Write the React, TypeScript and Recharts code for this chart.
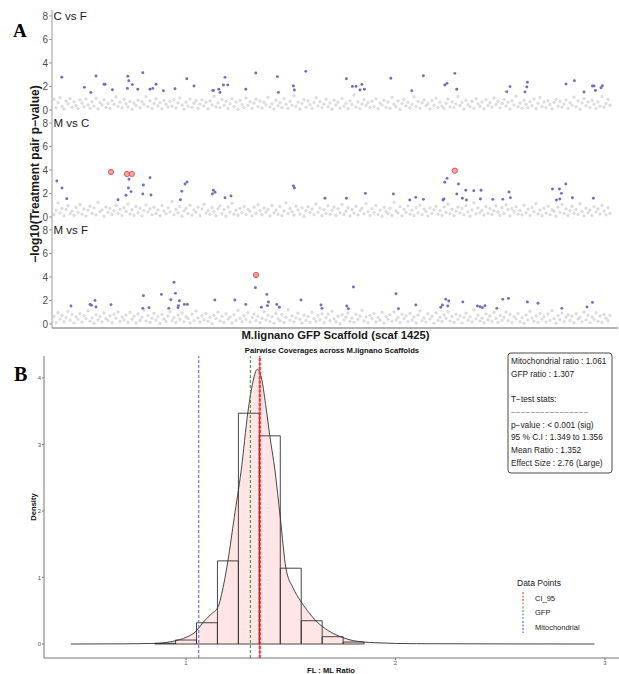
import React from 'react';
import {
  ScatterChart, Scatter, XAxis, YAxis, ComposedChart, Area, ReferenceArea, ReferenceLine,
} from 'recharts';

// ---------- Panel A data (x = position index along scaffold, y = -log10 p) ----------
const greyCF = [
  0.45,0.92,0.18,0.63,1.05,0.31,0.08,0.76,0.52,0.97,0.24,0.69,0.37,0.12,0.85,0.58,0.27,0.93,0.44,0.16,
  0.71,0.33,1.01,0.09,0.64,0.42,0.87,0.22,0.56,0.14,0.79,0.48,1.1,0.3,0.67,0.19,0.9,0.53,0.26,0.73,
  0.06,0.6,0.38,0.83,0.2,0.7,0.46,1.13,0.28,0.78,0.13,0.55,0.95,0.36,0.62,0.1,0.82,0.49,0.25,0.74,
  0.34,0.88,0.17,0.59,1.03,0.41,0.07,0.66,0.32,0.94,0.23,0.57,0.8,0.15,0.5,0.86,0.35,0.65,0.11,0.77,
  0.43,1.16,0.27,0.61,0.21,0.89,0.4,0.72,0.13,0.54,0.96,0.29,0.68,0.05,0.81,0.47,0.22,1.02,0.39,0.7,
  0.12,0.58,0.91,0.3,0.75,0.18,0.64,0.44,1.08,0.26,0.53,0.09,0.84,0.37,0.62,0.2,0.97,0.48,0.15,0.73,
  0.4,1.21,0.31,0.67,0.08,0.55,0.88,0.24,0.79,0.45,0.14,0.63,1.04,0.35,0.71,0.19,0.5,0.92,0.28,0.6,
  0.07,0.83,0.42,0.66,0.17,0.98,0.33,0.57,0.11,0.76,0.46,1.28,0.25,0.69,0.13,0.52,0.87,0.38,0.62,0.21,
  0.74,0.3,0.95,0.1,0.59,0.43,0.81,0.23,0.68,0.16,1.07,0.49,0.27,0.77,0.06,0.56,0.9,0.34,0.65,0.18,
  0.47,1.12,0.29,0.72,0.14,0.6,0.85,0.36,0.54,0.09,0.79,0.41,0.99,0.22,0.67,0.32,0.13,0.58,0.93,0.26,
  0.7,0.19,0.51,1.15,0.37,0.63,0.08,0.82,0.44,0.28,0.75,0.15,0.96,0.53,0.31,0.68,0.11,0.87,0.39,0.61,
  0.24,1.01,0.46,0.73,0.17,0.55,0.89,0.34,0.66,0.07,0.78,0.42,1.18,0.27,0.6,0.14,0.84,0.5,0.21,0.71,
  0.36,0.94,0.12,0.57,1.06,0.3,0.69,0.19,0.8,0.45,0.1,0.64,0.91,0.33,0.74,0.23,0.52,0.86,0.16,0.62,
  0.41,1.09,0.28,0.76,0.05,0.59,0.97,0.37,0.68,0.2,0.83,0.48,0.13,0.7,0.32,1.14,0.25,0.56,0.88,0.4,
];
const greyMC = [
  0.88,0.21,0.56,1.19,0.34,0.72,0.1,0.63,0.95,0.27,0.49,0.14,0.81,0.4,1.05,0.23,0.67,0.08,0.58,0.92,
  0.31,0.76,0.17,1.24,0.45,0.6,0.06,0.85,0.38,0.71,0.2,0.53,0.98,0.29,0.66,0.12,0.79,0.47,1.1,0.25,
  0.62,0.15,0.9,0.36,0.74,0.09,0.55,1.02,0.42,0.69,0.18,0.83,0.3,0.6,0.11,0.96,0.5,0.26,0.77,0.43,
  1.31,0.19,0.64,0.35,0.87,0.07,0.52,0.73,0.28,0.99,0.16,0.58,0.39,0.82,0.13,0.68,1.08,0.33,0.55,0.22,
  0.8,0.46,0.12,0.7,0.94,0.27,0.61,0.05,0.85,0.4,1.17,0.24,0.57,0.15,0.73,0.37,0.9,0.2,0.65,0.48,
  0.1,0.83,0.31,1.03,0.54,0.18,0.76,0.42,0.64,0.08,0.97,0.35,0.59,0.22,0.88,0.13,0.5,1.22,0.29,0.71,
  0.44,0.16,0.92,0.6,0.25,0.78,0.06,0.53,0.86,0.37,0.67,0.19,1.11,0.41,0.74,0.11,0.62,0.3,0.95,0.23,
  0.57,0.84,0.14,0.69,0.36,1.06,0.2,0.48,0.79,0.09,0.63,0.32,0.91,0.17,0.55,0.75,0.27,1.14,0.45,0.12,
  0.7,0.38,0.97,0.21,0.6,0.05,0.82,0.46,0.28,0.73,0.15,1.26,0.51,0.33,0.87,0.1,0.66,0.4,0.93,0.24,
  0.58,0.13,0.8,0.35,1.0,0.19,0.68,0.47,0.08,0.76,0.3,0.61,0.9,0.22,0.54,0.14,0.85,0.39,1.09,0.27,
  0.65,0.11,0.49,0.83,0.34,0.72,0.18,0.96,0.43,0.06,0.6,1.2,0.26,0.77,0.37,0.57,0.16,0.89,0.31,0.7,
  0.2,0.52,0.94,0.4,0.13,0.79,0.29,1.04,0.62,0.08,0.71,0.45,0.86,0.23,0.55,0.17,0.99,0.36,0.67,0.12,
  0.81,0.44,1.15,0.25,0.59,0.1,0.74,0.33,0.92,0.19,0.63,0.48,0.07,0.84,0.38,1.07,0.28,0.69,0.15,0.53,
  0.9,0.32,0.64,0.21,1.12,0.46,0.09,0.75,0.35,0.58,0.14,0.87,0.42,0.68,0.24,0.97,0.5,0.18,0.78,0.3,
];
const greyMF = [
  0.27,0.64,0.12,0.95,0.41,0.73,0.2,0.55,1.07,0.33,0.81,0.09,0.6,0.38,0.88,0.16,0.7,0.46,1.13,0.24,
  0.52,0.07,0.78,0.35,0.62,0.18,0.93,0.44,0.29,0.69,0.11,0.84,0.5,1.02,0.22,0.59,0.36,0.76,0.14,0.97,
  0.4,0.66,0.08,0.86,0.31,0.57,1.18,0.25,0.72,0.15,0.49,0.91,0.34,0.63,0.06,0.8,0.43,0.21,0.68,1.05,
  0.3,0.54,0.13,0.77,0.39,0.94,0.19,0.61,0.47,0.1,0.83,0.28,1.1,0.52,0.17,0.71,0.37,0.89,0.23,0.58,
  0.05,0.75,0.45,1.0,0.26,0.65,0.14,0.87,0.42,0.6,0.09,0.79,0.32,1.15,0.48,0.2,0.7,0.38,0.96,0.16,
  0.56,0.85,0.29,0.67,0.11,0.49,1.04,0.35,0.74,0.21,0.62,0.07,0.9,0.44,0.27,0.8,0.13,0.58,1.21,0.33,
  0.69,0.18,0.51,0.92,0.4,0.08,0.76,0.3,0.63,0.15,0.99,0.46,0.24,0.71,0.37,0.86,0.12,0.55,0.82,0.28,
  1.09,0.43,0.19,0.66,0.05,0.78,0.35,0.59,0.94,0.22,0.5,0.14,0.84,0.39,0.68,1.16,0.26,0.6,0.1,0.73,
  0.47,0.88,0.17,0.53,0.31,0.97,0.08,0.64,0.4,0.79,0.23,1.03,0.36,0.57,0.13,0.82,0.45,0.69,0.2,0.91,
  0.34,0.6,0.11,0.75,1.12,0.28,0.52,0.16,0.87,0.41,0.66,0.07,0.95,0.3,0.58,0.21,0.77,0.48,1.06,0.25,
  0.63,0.14,0.83,0.38,0.7,0.09,0.55,0.92,0.32,0.61,0.18,1.19,0.44,0.74,0.26,0.5,0.1,0.85,0.36,0.67,
  0.22,0.98,0.47,0.15,0.72,0.33,0.58,1.01,0.27,0.8,0.12,0.63,0.42,0.89,0.19,0.54,0.06,0.76,0.35,1.08,
  0.51,0.24,0.69,0.13,0.9,0.4,0.62,0.17,0.84,0.3,1.14,0.45,0.08,0.71,0.37,0.93,0.2,0.57,0.78,0.29,
  0.65,0.11,0.86,0.43,0.56,0.19,1.02,0.34,0.74,0.1,0.6,0.39,0.95,0.23,0.68,0.14,0.81,0.49,0.27,0.72,
];

const blueCF = [
  [4.9,2.79],[16.2,1.93],[19.4,1.5],[22,2.9],[26,2.19],[26.5,2.19],[30.2,1.73],[37.9,2.87],[38.4,2.5],
  [40.2,2.16],[37.7,1.84],[42.9,1.76],[45.4,3.18],[49,1.76],[50.4,1.84],[52,2.19],[55.7,1.64],[61.5,1.81],
  [67.4,2.66],[71,2.04],[80.4,1.67],[80.7,1.67],[83.4,1.76],[84,1.5],[85.7,2.13],[86.5,2.78],[87.9,2.13],
  [96.9,1.76],[101.9,3.15],[112.7,2.84],[113.2,1.5],[120.7,2.04],[121.2,1.7],[126.9,3.29],[147.2,2.66],
  [150.2,2.01],[152,2.01],[154.9,2.18],[154,1.7],[156.2,1.76],[169.4,2.7],[179.9,1.64],[185.7,2.92],
  [196.4,2.13],[197.5,2.27],[201.4,3.12],[202.4,1.76],[227.4,1.56],[229,1.99],[236.5,1.53],[237.4,1.96],
  [237.7,2.36],[257,2.21],[261.2,2.49],[266,1.53],[270.2,2.04],[271,2.04],[271.7,1.67],[274.5,1.9],[275.2,2.07],
];
const blueMC = [
  [2.4,3.06],[5,2.47],[7.4,1.56],[33,1.47],[37,1.85],[38.5,3.21],[38.2,2.47],[39.5,2.16],[45.4,1.96],
  [45.7,2.72],[49,3.35],[49.5,1.87],[64.2,1.47],[64.9,2.18],[66.5,2.81],[67.5,2.98],[80.2,1.96],[80.7,2.27],
  [81.5,2.1],[86.5,1.64],[89.5,1.79],[120.7,2.64],[121.2,2.47],[136.5,1.59],[147.2,1.59],[156.7,2.01],
  [170.7,1.96],[178.9,1.45],[181.9,1.67],[185.7,1.5],[195.5,1.45],[196,1.53],[196.4,2.95],[197.5,3.29],
  [203.2,2.81],[202.4,1.96],[205.2,1.59],[206.9,2.27],[207.2,1.45],[210.9,2.24],[214.5,2.27],[214.2,1.53],
  [220.4,1.5],[225.4,1.5],[228.5,2.13],[229.2,1.64],[250.2,2.38],[253.7,2.38],[254.7,2.01],[256.9,2.81],
  [252.2,1.45],[253.9,1.53],[260.2,1.64],[270.7,1.59],
];
const redMC = [[29.5,3.83],[37.5,3.66],[39.9,3.66],[201.4,3.94]];
const blueMF = [
  [9.5,1.53],[19,1.67],[19.7,1.59],[21.5,2.01],[22,1.45],[29.5,1.65],[45.7,2.41],[45.4,1.33],[48.5,1.39],
  [54.7,2.52],[58.4,1.33],[59.4,2.07],[61,3.55],[61.7,2.61],[63.7,1.98],[63.2,1.56],[63,1.39],[66.2,1.67],
  [67.7,1.67],[81.4,2.04],[91.4,2.04],[96.9,1.67],[101.7,3.09],[104.7,1.42],[107.4,2.52],[108.2,1.87],
  [107.7,1.56],[112.4,1.67],[113.7,1.42],[124.5,2.04],[134.5,1.62],[135,1.33],[147.4,1.53],[148.2,1.3],
  [150.7,3.15],[172,2.58],[173.2,1.3],[181.9,1.62],[194.4,1.42],[195.2,1.62],[196.9,2.1],[198.4,1.96],
  [197.9,1.53],[205.4,1.87],[212.7,1.53],[214,1.47],[215.2,1.39],[216.5,1.56],[222.4,1.33],[225.4,2.1],
  [228.2,2.18],[237.7,1.87],[243,1.76],[254.9,1.33],[267.5,1.45],[270.2,1.84],
];
const redMF = [[102,4.17]];
const aTicks = [0, 2, 4, 6, 8];

// ---------- Panel B data ----------
const binLo = [0.85, 0.95, 1.05, 1.15, 1.25, 1.35, 1.45, 1.55, 1.65, 1.75];
const binHi = [0.95, 1.05, 1.15, 1.25, 1.35, 1.45, 1.55, 1.65, 1.75, 1.85];
const binDensity = [0.01, 0.06, 0.32, 1.25, 3.47, 3.13, 1.14, 0.35, 0.11, 0.03];
const densX = [0.45,0.7,0.85,0.95,1.0,1.05,1.08,1.12,1.153,1.18,1.2,1.23,1.263,1.296,1.32,1.34,1.36,1.38,1.4,1.425,1.45,1.477,1.51,1.544,1.58,1.62,1.68,1.745,1.8,1.9,2.1,2.5,2.95];
const densY = [0,0.003,0.01,0.05,0.1,0.2,0.32,0.45,0.56,0.9,1.25,1.9,2.6,3.5,3.95,4.13,4.0,3.6,3.13,2.6,1.9,1.14,0.85,0.66,0.5,0.35,0.2,0.1,0.05,0.02,0.005,0.002,0];
const bTicksX = [1, 2, 3];
const bTicksY = [0, 1, 2, 3, 4];
const mitoRatio = 1.061;
const gfpRatio = 1.307;
const ciLow = 1.349;
const ciHigh = 1.356;
const meanRatio = 1.352;
const statLines = [
  'Mitochondrial ratio : 1.061',
  'GFP ratio : 1.307',
  '',
  'T\u2212test stats:',
  '\u2212\u2212\u2212\u2212\u2212\u2212\u2212\u2212\u2212\u2212\u2212\u2212\u2212\u2212\u2212\u2212',
  'p\u2212value : < 0.001 (sig)',
  '95 % C.I : 1.349 to 1.356',
  'Mean Ratio : 1.352',
  'Effect Size : 2.76 (Large)',
];
const legendItems = [
  { name: 'CI_95', color: '#f03030' },
  { name: 'GFP', color: '#2e8b2e' },
  { name: 'Mitochondrial', color: '#3a3aff' },
];

const SANS = '"Liberation Sans", Arial, sans-serif';

const GreyDot = (p: any) => (
  <circle cx={p.cx} cy={p.cy} r={1.25} fill="#e4e4e4" stroke="#c6c6c6" strokeWidth={0.5} />
);
const BlueDot = (p: any) => <circle cx={p.cx} cy={p.cy} r={1.45} fill="#6d6dc6" />;
const RedDot = (p: any) => (
  <circle cx={p.cx} cy={p.cy} r={2.6} fill="#f5a5a5" stroke="#e5474f" strokeWidth={0.9} />
);

const toPts = (arr: number[]) => arr.map((v, i) => ({ x: i, y: v }));
const pairPts = (arr: number[][]) => arr.map(([x, y]) => ({ x, y }));

function APanel(props: { grey: number[]; blue: number[][]; red: number[][]; domain: [number, number]; top: number; bottomAxis: boolean }) {
  const { grey, blue, red, domain, top, bottomAxis } = props;
  return (
    <div style={{ position: 'absolute', left: 0, top }}>
      <ScatterChart width={619} height={bottomAxis ? 108 : 106} margin={{ top: 0, right: 1, bottom: 0, left: 0 }}>
        <XAxis
          type="number" dataKey="x" domain={[0, 283]} allowDataOverflow
          hide={!bottomAxis} height={2} tick={false} tickLine={false}
          axisLine={{ stroke: '#666', strokeWidth: 1 }}
        />
        <YAxis
          type="number" dataKey="y" domain={domain} ticks={aTicks} allowDataOverflow interval={0}
          width={52} tickSize={3} tickMargin={1}
          tick={{ fontSize: 10, fill: '#4d4d4d', fontFamily: SANS }}
          axisLine={{ stroke: '#9a9a9a' }} tickLine={{ stroke: '#9a9a9a' }}
        />
        <Scatter data={toPts(grey)} shape={GreyDot} isAnimationActive={false} />
        <Scatter data={pairPts(blue)} shape={BlueDot} isAnimationActive={false} />
        {red.length > 0 && <Scatter data={pairPts(red)} shape={RedDot} isAnimationActive={false} />}
      </ScatterChart>
    </div>
  );
}

export default function App() {
  const density = densX.map((x, i) => ({ x, y: densY[i] }));
  const lineTop = 356;
  return (
    <div style={{ position: 'absolute', left: 0, top: 0, width: 619, height: 674, background: '#fff', overflow: 'hidden' }}>
      <APanel grey={greyCF} blue={blueCF} red={[]} domain={[-0.51, 8.51]} top={10} bottomAxis={false} />
      <APanel grey={greyMC} blue={blueMC} red={redMC} domain={[-0.43, 8.6]} top={116} bottomAxis={false} />
      <APanel grey={greyMF} blue={blueMF} red={redMF} domain={[-0.34, 8.68]} top={222} bottomAxis={true} />

      <div style={{ position: 'absolute', left: 0, top: lineTop }}>
        <ComposedChart width={619} height={318} data={density} margin={{ top: 0, right: 0, bottom: 0, left: 0 }}>
          <XAxis
            type="number" dataKey="x" domain={[0.322, 3.067]} ticks={bTicksX} allowDataOverflow
            height={16} tickSize={2} tickMargin={1}
            tick={{ fontSize: 6, fill: '#555', fontFamily: SANS }}
            axisLine={{ stroke: '#777' }} tickLine={{ stroke: '#777' }}
          />
          <YAxis
            type="number" domain={[-0.21, 4.33]} ticks={bTicksY} allowDataOverflow interval={0}
            width={44} tickSize={2} tickMargin={1}
            tick={{ fontSize: 6, fill: '#555', fontFamily: SANS }}
            axisLine={{ stroke: '#777' }} tickLine={{ stroke: '#777' }}
          />
          <Area
            type="monotone" dataKey="y" baseValue={0} stroke="#333" strokeWidth={0.9}
            fill="#ff0000" fillOpacity={0.1} isAnimationActive={false} dot={false} activeDot={false}
          />
          {binDensity.map((h, i) => (
            <ReferenceArea key={i} x1={binLo[i]} x2={binHi[i]} y1={0} y2={h}
              fill="none" fillOpacity={0} stroke="#333" strokeWidth={0.9} />
          ))}
          <ReferenceLine x={mitoRatio} stroke="#5a5af5" strokeDasharray="3 2" strokeWidth={1} />
          <ReferenceLine x={gfpRatio} stroke="#2e8b2e" strokeDasharray="3 2" strokeWidth={1} />
          <ReferenceLine x={ciLow} stroke="#f03030" strokeDasharray="3 1.5" strokeWidth={0.9} />
          <ReferenceLine x={meanRatio} stroke="#e02020" strokeWidth={0.8} />
          <ReferenceLine x={ciHigh} stroke="#f03030" strokeDasharray="3 1.5" strokeWidth={0.9} />
        </ComposedChart>
      </div>

      <svg width={619} height={674} style={{ position: 'absolute', left: 0, top: 0, pointerEvents: 'none' }}>
        <g fontFamily={SANS}>
          <text x={13} y={37} fontFamily='"Liberation Serif", "Times New Roman", serif' fontWeight="bold" fontSize={19} fill="#000">A</text>
          <text x={14} y={381} fontFamily='"Liberation Serif", "Times New Roman", serif' fontWeight="bold" fontSize={20} fill="#000">B</text>

          <text x={53.5} y={20} fontSize={11.5} fill="#1a1a1a">C vs F</text>
          <text x={53.5} y={127} fontSize={11.5} fill="#1a1a1a">M vs C</text>
          <text x={53.5} y={234} fontSize={11.5} fill="#1a1a1a">M vs F</text>

          <text transform="translate(35,174) rotate(-90)" textAnchor="middle" dominantBaseline="central"
            fontSize={12} fontWeight="bold" fill="#1a1a1a">{'\u2212log10(Treatment pair p\u2212value)'}</text>
          <text x={335.5} y={339} textAnchor="middle" fontSize={11.3} fontWeight="bold" fill="#1a1a1a">M.lignano GFP Scaffold (scaf 1425)</text>

          <text x={332} y={352.5} textAnchor="middle" fontSize={7.7} fontWeight="bold" fill="#111">Pairwise Coverages across M.lignano Scaffolds</text>
          <text transform="translate(33,507) rotate(-90)" textAnchor="middle" dominantBaseline="central"
            fontSize={7.6} fontWeight="bold" fill="#111">Density</text>
          <text x={331} y={672.5} textAnchor="middle" fontSize={7.6} fontWeight="bold" fill="#111">FL : ML Ratio</text>

          <rect x={508} y={353} width={104} height={120} rx={3} fill="#fff" stroke="#333" strokeWidth={0.9} />
          {statLines.map((s, i) => (
            <text key={i} x={511} y={364 + i * 12.7} fontSize={8.3} fill={i === 4 ? '#777' : '#222'}>{s}</text>
          ))}

          <text x={517} y={586} fontSize={8.5} fill="#222">Data Points</text>
          {legendItems.map((it, i) => {
            const c = 598 + i * 14.5;
            return (
              <g key={it.name}>
                <line x1={523} x2={523} y1={c - 6} y2={c + 6} stroke={it.color} strokeWidth={1} strokeDasharray="2 1.5" />
                <text x={535} y={c + 2.7} fontSize={7.5} fill="#222">{it.name}</text>
              </g>
            );
          })}
        </g>
      </svg>
    </div>
  );
}
